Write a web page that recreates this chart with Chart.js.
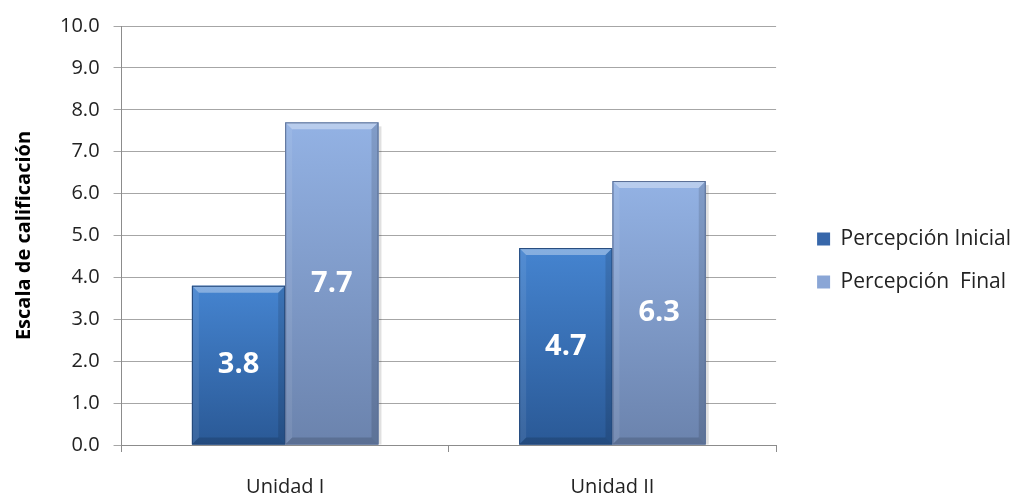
<!DOCTYPE html>
<html>
<head>
<meta charset="utf-8">
<script src="https://cdn.jsdelivr.net/npm/chart.js@4.4.0/dist/chart.umd.min.js"></script>
<style>
html, body { margin: 0; padding: 0; background: #fff; }
#wrap { width: 1027px; height: 496px; }
</style>
</head>
<body>
<div id="wrap"><canvas id="myChart"></canvas></div>
<script>
const units = ['Unidad I', 'Unidad II'];
const inicial = [3.8, 4.7];
const final = [7.7, 6.3];

const FONT = "'Open Sans', sans-serif";

// top / bottom colours for each series
const shades = [
  { top: '#4584d0', bottom: '#2a5996', edge: '#24487a', box: '#3767aa' },
  { top: '#93b2e4', bottom: '#6b83ad', edge: '#5a6e94', box: '#8aa6d6' }
];

// repaint each bar with a bevelled gradient and its value in the middle
const bevelBars = {
  id: 'bevelBars',
  afterDatasetsDraw(chart) {
    const ctx = chart.ctx;
    chart.data.datasets.forEach((ds, i) => {
      const meta = chart.getDatasetMeta(i);
      const s = shades[i];
      meta.data.forEach((bar, j) => {
        const p = bar.getProps(['x', 'y', 'base', 'width'], true);
        const l = p.x - p.width / 2, r = p.x + p.width / 2;
        const t = p.y, b = p.base;
        const d = 7;
        ctx.save();
        // soft shadow on the right
        ctx.fillStyle = 'rgba(0,0,0,0.12)';
        ctx.fillRect(r, t + 4, 3, b - t - 4);
        const g = ctx.createLinearGradient(0, t, 0, b);
        g.addColorStop(0, s.top);
        g.addColorStop(1, s.bottom);
        ctx.fillStyle = g;
        ctx.fillRect(l, t, r - l, b - t);
        const poly = (pts, fill) => {
          ctx.beginPath();
          ctx.moveTo(pts[0][0], pts[0][1]);
          pts.slice(1).forEach(q => ctx.lineTo(q[0], q[1]));
          ctx.closePath();
          ctx.fillStyle = fill;
          ctx.fill();
        };
        poly([[l, t], [r, t], [r - d, t + d], [l + d, t + d]], 'rgba(255,255,255,0.35)');
        poly([[l, t], [l + d, t + d], [l + d, b - d], [l, b]], 'rgba(255,255,255,0.08)');
        poly([[r, t], [r - d, t + d], [r - d, b - d], [r, b]], 'rgba(0,0,0,0.12)');
        poly([[l, b], [l + d, b - d], [r - d, b - d], [r, b]], 'rgba(0,0,0,0.15)');
        ctx.strokeStyle = s.edge;
        ctx.lineWidth = 1;
        ctx.strokeRect(l + 0.5, t + 0.5, r - l - 1, b - t - 1);
        // value label
        ctx.fillStyle = '#ffffff';
        ctx.font = "bold 29px " + FONT;
        ctx.textAlign = 'center';
        ctx.textBaseline = 'middle';
        ctx.fillText(ds.data[j].toFixed(1), p.x, (t + b) / 2);
        ctx.restore();
      });
    });
  }
};

const data = {
  labels: units,
  datasets: [{
    label: 'Percepción Inicial',
    data: inicial,
    backgroundColor: shades[0].box,
    borderWidth: 0
  }, {
    label: 'Percepción  Final',
    data: final,
    backgroundColor: shades[1].box,
    borderWidth: 0
  }]
};

const config = {
  type: 'bar',
  data: data,
  plugins: [bevelBars],
  options: {
    responsive: true,
    maintainAspectRatio: false,
    animation: false,
    layout: { padding: { top: 25, right: 6, left: 8, bottom: 0 } },
    datasets: {
      bar: { categoryPercentage: 0.57, barPercentage: 1.0 }
    },
    scales: {
      x: {
        grid: { drawOnChartArea: false, color: '#8c8c8c', tickLength: 7 },
        border: { color: '#8c8c8c' },
        ticks: { color: '#222', font: { family: FONT, size: 20 }, padding: 23 },
        afterFit: s => { s.height = 51; }
      },
      y: {
        min: 0,
        max: 10,
        grid: { color: '#a6a6a6', tickLength: 8 },
        border: { color: '#8c8c8c' },
        ticks: {
          stepSize: 1,
          color: '#222',
          padding: 14,
          font: { family: FONT, size: 20 },
          callback: v => v.toFixed(1)
        },
        title: {
          display: true,
          text: 'Escala de calificación',
          color: '#000',
          font: { family: FONT, size: 20, weight: 'bold' },
          padding: { bottom: 10 }
        }
      },
      // empty strip between the plot and the legend
      gap: {
        position: 'right',
        grid: { display: false },
        border: { display: false },
        ticks: { display: false },
        afterFit: s => { s.width = 19; }
      }
    },
    plugins: {
      tooltip: { enabled: false },
      legend: {
        position: 'right',
        maxWidth: 260,
        labels: {
          color: '#222',
          font: { family: FONT, size: 21 },
          usePointStyle: true,
          pointStyle: 'rect',
          boxWidth: 13,
          boxHeight: 13,
          padding: 22
        }
      }
    }
  }
};

const myChart = new Chart(document.getElementById('myChart'), config);
</script>
</body>
</html>
